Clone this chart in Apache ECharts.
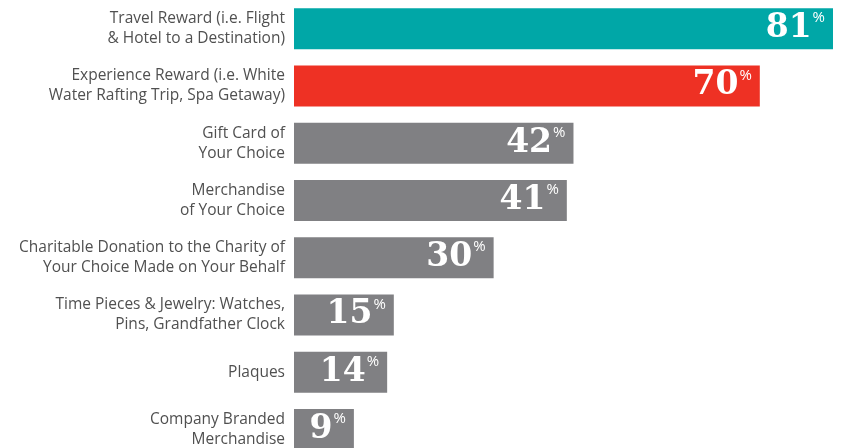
<!DOCTYPE html>
<html>
<head>
<meta charset="utf-8">
<script src="https://cdn.jsdelivr.net/npm/echarts@6/dist/echarts.min.js"></script>
<style>
  html, body { margin: 0; padding: 0; background: #fff; }
  #chart { width: 841px; height: 448px; }
</style>
</head>
<body>
<div id="chart"></div>
<script>
const categories = [
  "Travel Reward (i.e. Flight\n& Hotel to a Destination)",
  "Experience Reward (i.e. White\nWater Rafting Trip, Spa Getaway)",
  "Gift Card of\nYour Choice",
  "Merchandise\nof Your Choice",
  "Charitable Donation to the Charity of\nYour Choice Made on Your Behalf",
  "Time Pieces & Jewelry: Watches,\nPins, Grandfather Clock",
  "Plaques",
  "Company Branded\nMerchandise"
];
const values = [81, 70, 42, 41, 30, 15, 14, 9];
const barColors = ["#00A7A7", "#EE3124", "#808083", "#808083", "#808083", "#808083", "#808083", "#808083"];

const chart = echarts.init(document.getElementById("chart"));

chart.setOption({
  backgroundColor: "#fff",
  animation: false,
  grid: {
    left: 294,
    right: 8,
    top: 0,
    height: 458,
    outerBoundsMode: "none",
    containLabel: false
  },
  xAxis: {
    type: "value",
    min: 0,
    max: 81,
    show: false
  },
  yAxis: {
    type: "category",
    inverse: true,
    data: categories,
    axisLine: { show: false },
    axisTick: { show: false },
    axisLabel: {
      margin: 9,
      color: "#505050",
      fontFamily: "Open Sans",
      fontSize: 15.5,
      lineHeight: 20,
      align: "right"
    }
  },
  series: [
    {
      type: "bar",
      barWidth: 41,
      data: values.map((v, i) => ({
        value: v,
        itemStyle: { color: barColors[i] }
      })),
      label: {
        show: true,
        position: "insideRight",
        distance: 8,
        formatter: (p) => "{num|" + p.value + "}{pct|%}",
        rich: {
          num: {
            color: "#fff",
            fontFamily: "DejaVu Serif",
            fontWeight: "bold",
            fontSize: 33,
            lineHeight: 36
          },
          pct: {
            color: "#fff",
            fontFamily: "Open Sans",
            fontSize: 15,
            verticalAlign: "top",
            lineHeight: 36,
            padding: [0, 0, 14, 1]
          }
        }
      }
    }
  ]
});
</script>
</body>
</html>
